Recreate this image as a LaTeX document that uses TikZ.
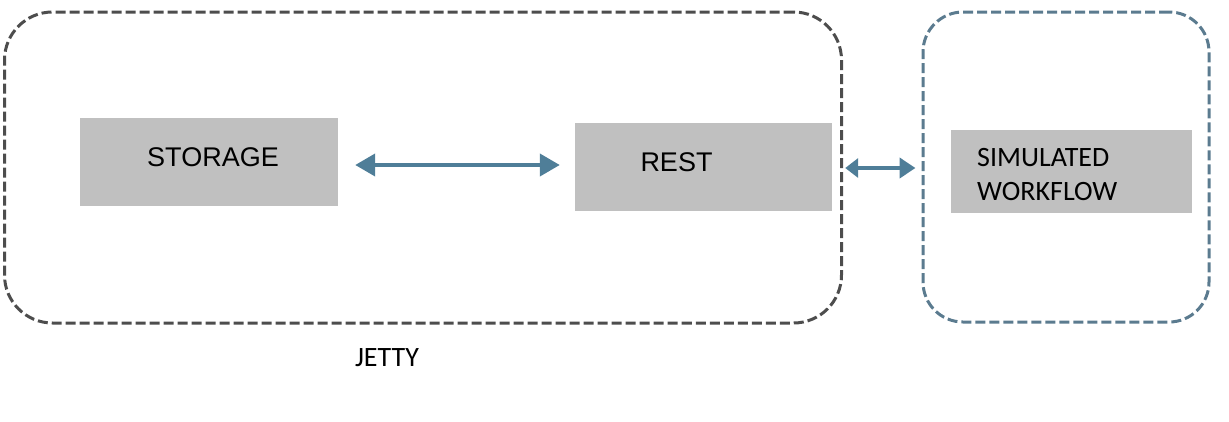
\documentclass[tikz,border=0pt]{standalone}
\usepackage{fontspec}
\newfontfamily\arialf{Liberation Sans}
\newfontfamily\calf{Carlito}
\usetikzlibrary{arrows.meta}
\definecolor{jgray}{RGB}{77,77,77}
\definecolor{wfblue}{RGB}{91,123,143}
\definecolor{arrblue}{RGB}{79,126,152}
\definecolor{boxgray}{RGB}{192,192,192}
\tikzset{
  jettybox/.style={draw=jgray, line width=3pt, dash pattern=on 10pt off 4pt, rounded corners=48pt, inner sep=0pt},
  wfbox/.style={draw=wfblue, line width=3pt, dash pattern=on 10pt off 4pt, rounded corners=40pt, inner sep=0pt},
  graybox/.style={fill=boxgray, inner sep=0pt},
  artext/.style={font=\arialf\fontsize{27}{32}\selectfont, inner sep=0pt},
  catext/.style={font=\calf\fontsize{28}{34}\selectfont, inner sep=0pt},
  arr/.style={draw=arrblue, line width=4pt},
}
\begin{document}
\begin{tikzpicture}[x=1pt,y=-1pt]
\useasboundingbox (0,0) rectangle (1229,421);
\node[jettybox, minimum width=837pt, minimum height=311pt] (jetty) at (423,167.5) {};
\node[wfbox, minimum width=286pt, minimum height=310pt] (wf) at (1066,167) {};
\node[graybox, minimum width=258pt, minimum height=88pt] (storage) at (209,162) {};
\node[graybox, minimum width=257pt, minimum height=88pt] (rest) at (703.5,167) {};
\node[graybox, minimum width=241pt, minimum height=83pt] (sim) at (1071.5,171.5) {};
\node[artext, anchor=base] (storagetxt) at (213,166) {STORAGE};
\node[artext, anchor=base] (resttxt) at (676.5,171) {REST};
\node[catext, anchor=base west] (simtxt1) at (977,166) {SIMULATED};
\node[catext, anchor=base west] (simtxt2) at (977,200) {WORKFLOW};
\node[catext, anchor=base] (jettytxt) at (387,366) {JETTY};
\draw[arr, {Triangle[length=20pt,width=22pt]}-{Triangle[length=20pt,width=22pt]}]
  ([xshift=17pt,yshift=-3pt]storage.east) -- ([xshift=-15pt,yshift=2pt]rest.west);
\draw[arr, {Triangle[length=13pt,width=19pt]}-{Triangle[length=16pt,width=20pt]}]
  ([xshift=13pt,yshift=-1pt]rest.east) -- ([xshift=-6pt,yshift=-1pt]wf.west);
\end{tikzpicture}
\end{document}
